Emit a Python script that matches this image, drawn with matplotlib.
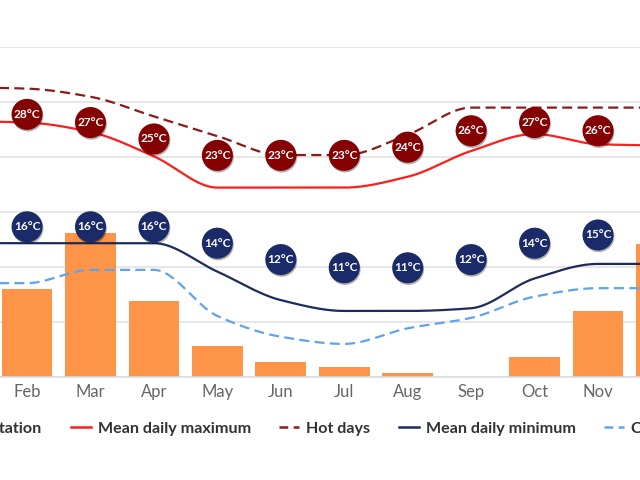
import numpy as np
import matplotlib
matplotlib.use("Agg")
import matplotlib.pyplot as plt
import matplotlib.patheffects as pe
import matplotlib.transforms as mtrans
from matplotlib.patches import Patch
from matplotlib.lines import Line2D

plt.rcParams['font.family'] = ['Lato', 'DejaVu Sans']

# ---------------------------------------------------------
# Data
# ---------------------------------------------------------
months = ['Jan', 'Feb', 'Mar', 'Apr', 'May', 'Jun',
          'Jul', 'Aug', 'Sep', 'Oct', 'Nov', 'Dec']
precipitation = [40, 31.9, 52.5, 27.4, 11.2, 5.4, 3.6, 1.2, 0, 7.1, 24.1, 48.3]
mean_max = [25.0, 24.9, 24.2, 22.4, 20.1, 20.1, 20.1, 20.9, 22.8, 24.05, 23.3, 23.2]
hot_days = [27.5, 27.4, 26.8, 25.35, 23.9, 22.5, 22.5, 24.0, 26.0, 26.0, 26.0, 26.0]
mean_min = [16.0, 16.0, 16.0, 16.0, 13.9, 11.8, 11.0, 11.0, 11.2, 13.4, 14.47, 14.47]
cold_nights = [13.05, 13.05, 14.03, 14.03, 10.63, 9.1, 8.57, 9.72, 10.49, 12.06, 12.68, 12.68]
max_labels = [28, 28, 27, 25, 23, 23, 23, 24, 26, 27, 26, 27]
min_labels = [16, 16, 16, 16, 14, 12, 11, 11, 12, 14, 15, 15]

C_BAR = '#fe9448'
C_MAX = '#ff1c1c'
C_HOT = '#8b1a1a'
C_MIN = '#1d2a5e'
C_COLD = '#5ea3ef'
C_MAXDOT = '#850000'
C_MINDOT = '#1b2a68'
DASH = (4.5, 2.4)


# ---------------------------------------------------------
# Helper: monotone cubic curve through the monthly points
# ---------------------------------------------------------
def smooth(values, steps=30):
    y = np.asarray(values, dtype=float)
    n = len(y)
    delta = np.diff(y)
    d = np.zeros(n)
    d[0], d[-1] = delta[0], delta[-1]
    for k in range(1, n - 1):
        if delta[k - 1] * delta[k] > 0:
            d[k] = 2.0 / (1.0 / delta[k - 1] + 1.0 / delta[k])
    xs, ys = [], []
    for k in range(n - 1):
        t = np.linspace(0, 1, steps, endpoint=False)
        h00 = 2 * t**3 - 3 * t**2 + 1
        h10 = t**3 - 2 * t**2 + t
        h01 = -2 * t**3 + 3 * t**2
        h11 = t**3 - t**2
        xs.append(k + t)
        ys.append(h00 * y[k] + h10 * d[k] + h01 * y[k + 1] + h11 * d[k + 1])
    xs.append([n - 1])
    ys.append([y[-1]])
    return np.concatenate(xs), np.concatenate(ys)


x = np.arange(len(months))

fig = plt.figure(figsize=(6.4, 4.8), dpi=100)
ax = fig.add_axes([-0.1064, 0.2152, 1.1895, 0.6863])

# precipitation bars + grid
ax.bar(x, precipitation, width=0.8, color=C_BAR, zorder=2)
ax.set_xlim(-0.5, 11.5)
ax.set_ylim(0, 120)
ax.set_yticks(np.arange(0, 121, 20))
ax.yaxis.grid(True, color='#e3e3e3', linewidth=1.2, zorder=0)
ax.set_axisbelow(True)
for s in ['top', 'right', 'left']:
    ax.spines[s].set_visible(False)
ax.spines['bottom'].set_color('#dcdcdc')
ax.spines['bottom'].set_linewidth(1.2)
ax.tick_params(axis='y', left=False, labelleft=False)
ax.tick_params(axis='x', length=0, pad=5, labelsize=12, labelcolor='#666666')
ax.set_xticks(x)
ax.set_xticklabels(months)

# temperature lines
axt = ax.twinx()
axt.set_ylim(6.15, 30.45)
axt.axis('off')
axt.plot(*smooth(mean_max), color=C_MAX, lw=1.6, zorder=3)
axt.plot(*smooth(hot_days), color=C_HOT, lw=1.6, dashes=DASH, zorder=3)
axt.plot(*smooth(mean_min), color=C_MIN, lw=1.6, zorder=3)
axt.plot(*smooth(cold_nights), color=C_COLD, lw=1.6, dashes=DASH, zorder=3)

# value bubbles
axl = ax.twinx()
axl.set_ylim(-3.99, 36.18)
axl.axis('off')
shadow = [pe.SimplePatchShadow(offset=(0.6, -1.2), shadow_rgbFace='black', alpha=0.3),
          pe.Normal()]
axl.scatter(x, max_labels, s=500, color=C_MAXDOT, zorder=5, path_effects=shadow,
            linewidths=0)
for xi, v in zip(x, max_labels):
    axl.text(xi, v, f'{v}°C', ha='center', va='center', color='white',
             fontsize=8.6, fontweight='bold', zorder=6)
# minimum bubbles sit a little lower than the maximum ones
off = mtrans.offset_copy(axl.transData, fig=fig, x=0, y=-10.1, units='points')
min_pts = axl.scatter(x, min_labels, s=500, color=C_MINDOT, zorder=5,
                      path_effects=shadow, linewidths=0)
min_pts.set_offset_transform(off)
for xi, v in zip(x, min_labels):
    axl.text(xi, v, f'{v}°C', transform=off, ha='center', va='center',
             color='white', fontsize=8.6, fontweight='bold', zorder=6)

# legend
handles = [
    Patch(color=C_BAR),
    Line2D([], [], color=C_MAX, lw=1.8),
    Line2D([], [], color=C_HOT, lw=1.8, dashes=(3.5, 2.2)),
    Line2D([], [], color=C_MIN, lw=1.8),
    Line2D([], [], color=C_COLD, lw=1.8, dashes=(3.5, 2.2)),
]
labels = ['Precipitation', 'Mean daily maximum', 'Hot days',
          'Mean daily minimum', 'Cold nights']
leg = fig.legend(handles, labels, loc='center', bbox_to_anchor=(0.496, 0.107),
                 ncol=5, frameon=False, handlelength=1.25, handletextpad=0.43,
                 columnspacing=1.75, prop={'weight': 'bold', 'size': 11.6})
for t in leg.get_texts():
    t.set_color('#333333')

fig.savefig('out.png', dpi=100)
